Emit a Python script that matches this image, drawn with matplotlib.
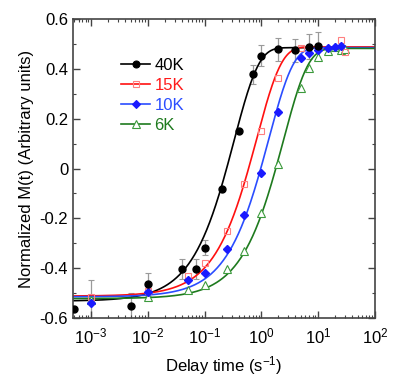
import numpy as np
import matplotlib
matplotlib.use("Agg")
import matplotlib.pyplot as plt
from matplotlib.lines import Line2D
from matplotlib.ticker import LogLocator, MultipleLocator, FuncFormatter, NullFormatter

plt.rcParams['font.family'] = ['Liberation Sans', 'DejaVu Sans']
plt.rcParams['mathtext.fontset'] = 'custom'
plt.rcParams['mathtext.rm'] = 'Liberation Sans'
plt.rcParams['mathtext.it'] = 'Liberation Sans:italic'
plt.rcParams['axes.unicode_minus'] = False

#------------------------------------------------------------------------------
#                   data
#------------------------------------------------------------------------------
labels = ['40K', '15K', '10K', '6K']

t40 = [5e-4, 5e-3, 0.01, 0.04, 0.07, 0.1, 0.2, 0.4, 0.7, 1.0, 2.0, 3.9, 6.8, 9.8]
m40 = [-0.565, -0.553, -0.465, -0.405, -0.405, -0.318, -0.083, 0.150, 0.378,
       0.453, 0.478, 0.474, 0.489, 0.493]
e40 = [0.0, 0.054, 0.045, 0.04, 0.04, 0.03, 0.0, 0.0, 0.037, 0.042, 0.045,
       0.045, 0.05, 0.055]

t15 = [1e-3, 0.01, 0.05, 0.1, 0.25, 0.5, 1.0, 2.0, 5.0, 25.0, 30.0]
m15 = [-0.515, -0.49, -0.432, -0.378, -0.250, -0.063, 0.149, 0.364, 0.482,
       0.516, 0.469]

t10 = [1e-3, 0.01, 0.05, 0.1, 0.25, 0.5, 1.0, 2.0, 5.0, 7.0, 10.0, 15.0, 20.0, 25.0]
m10 = [-0.539, -0.496, -0.448, -0.421, -0.325, -0.187, -0.020, 0.228, 0.442,
       0.462, 0.474, 0.482, 0.489, 0.493]
e10 = [0.09, 0, 0, 0, 0, 0, 0, 0, 0, 0, 0, 0, 0, 0]

t6 = [1e-3, 0.01, 0.05, 0.1, 0.25, 0.5, 1.0, 2.0, 5.0, 7.0, 10.0, 15.0, 20.0, 25.0, 30.0]
m6 = [-0.526, -0.515, -0.488, -0.468, -0.405, -0.330, -0.180, 0.018, 0.324,
      0.402, 0.449, 0.471, 0.489, 0.475, 0.478]

# fit parameters: M(t) = top - (top - bottom) * exp(-t / tau)
fit_top = [0.485, 0.488, 0.485, 0.482]
fit_bottom = [-0.532, -0.512, -0.515, -0.522]
fit_tau = [0.33, 0.83, 1.35, 2.45]

#------------------------------------------------------------------------------
#                   styles
#------------------------------------------------------------------------------
line_colors = ['black', '#ff1010', '#2a4dff', '#1e7a1e']
text_colors = ['black', '#ff1a1a', '#2a4dff', '#1e7a1e']

fig = plt.figure(figsize=(4.16, 3.78), dpi=100)
ax = fig.add_axes([0.1755, 0.1587, 0.7255, 0.791])

tt = np.logspace(np.log10(5e-4), 2, 400)
for i in range(4):
    mm = fit_top[i] - (fit_top[i] - fit_bottom[i]) * np.exp(-tt / fit_tau[i])
    ax.plot(tt, mm, color=line_colors[i], lw=1.2, zorder=2)

# error bars (gray)
ax.errorbar(t40, m40, yerr=e40, fmt='none', ecolor='#9a9a9a', elinewidth=0.9,
            capsize=2, capthick=0.8, zorder=1)
ax.errorbar(t10, m10, yerr=e10, fmt='none', ecolor='#9a9a9a', elinewidth=0.9,
            capsize=2, capthick=0.8, zorder=1)

# markers
ax.plot(t6, m6, ls='none', marker='^', ms=5.5, mfc='white', mec='#3c9a3c',
        mew=0.8, zorder=3)
ax.plot(t15, m15, ls='none', marker='s', ms=5, mfc='none', mec='#ff8080',
        mew=0.8, zorder=3)
ax.plot(t10, m10, ls='none', marker='D', ms=4.5, mfc='#1a1aff', mec='#1a1aff',
        zorder=4)
ax.plot(t40, m40, ls='none', marker='o', ms=5, mfc='black', mec='black',
        zorder=5)

ax.set_xscale('log')
ax.set_xlim(4.8e-4, 100)
ax.set_ylim(-0.6, 0.6)

ax.xaxis.set_major_locator(LogLocator(base=10, numticks=12))
ax.xaxis.set_minor_locator(LogLocator(base=10, subs=np.arange(2, 10), numticks=12))
ax.xaxis.set_minor_formatter(NullFormatter())
ax.yaxis.set_major_locator(MultipleLocator(0.2))
ax.yaxis.set_minor_locator(MultipleLocator(0.1))

def yfmt(v, pos):
    if abs(v) < 1e-9:
        return '0'
    return '%.1f' % v
ax.yaxis.set_major_formatter(FuncFormatter(yfmt))

ax.tick_params(which='both', direction='in', top=True, right=True,
               labelsize=12, color='#444444')
ax.tick_params(which='major', length=5, width=1)
ax.tick_params(which='minor', length=2.5, width=0.8)
ax.tick_params(axis='x', pad=6)
for s in ax.spines.values():
    s.set_color('#444444')
    s.set_linewidth(1.2)

ax.set_xlabel('Delay time (s$^{-1}$)', fontsize=12, labelpad=5.5)
ax.set_ylabel('Normalized M(t) (Arbitrary units)', fontsize=12, labelpad=4)

# legend
markers = [('o', 'black', 'black', 5), ('s', 'none', '#ff8080', 5),
           ('D', '#1a1aff', '#1a1aff', 4.5), ('^', 'white', '#3c9a3c', 5.5)]
handles = []
for i in range(4):
    mk, fc, ec, ms = markers[i]
    handles.append(Line2D([], [], color=line_colors[i], lw=1.2, marker=mk,
                          mfc=fc, mec=ec, ms=ms, mew=0.8))
leg = ax.legend(handles, labels, loc='upper left', bbox_to_anchor=(0.137, 0.893),
                frameon=False, fontsize=12, handlelength=1.75, handletextpad=0.25,
                labelspacing=0.3, borderaxespad=0)
for txt, c in zip(leg.get_texts(), text_colors):
    txt.set_color(c)

fig.savefig('out.png', dpi=100)
